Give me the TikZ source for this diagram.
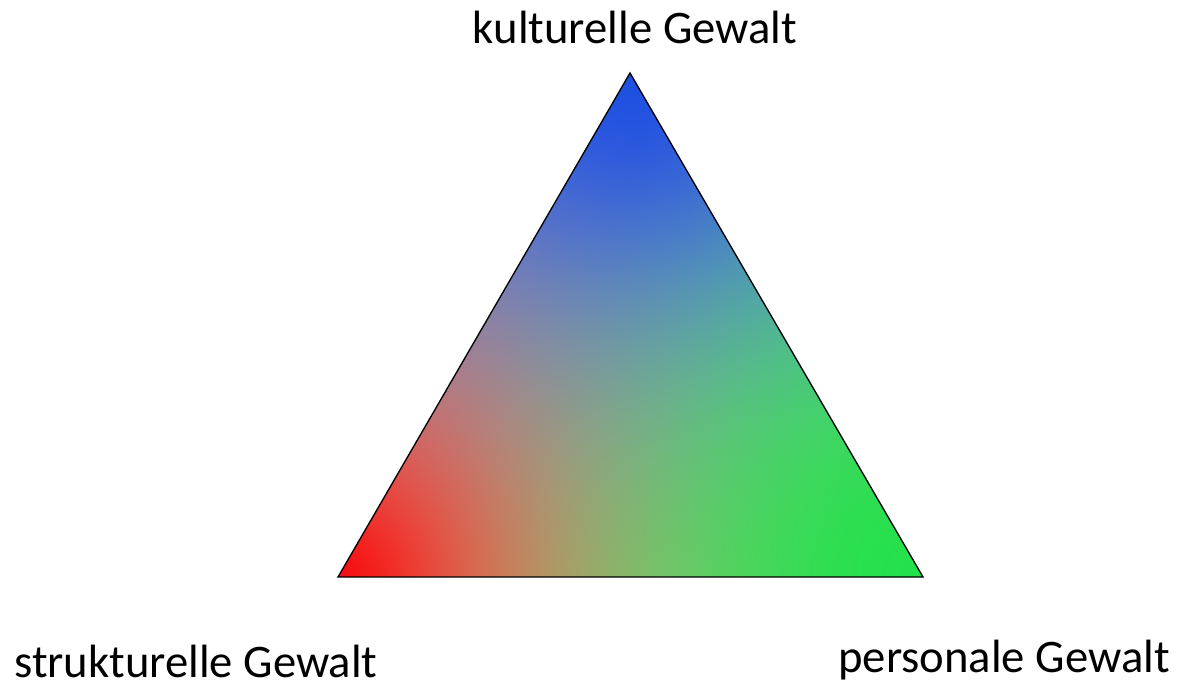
\documentclass[tikz,border=0pt]{standalone}
\usepackage{fontspec}
\setmainfont{Carlito}
\usetikzlibrary{positioning}

% three corner colours, blended by inverse distance (linear light)
\pgfdeclarefunctionalshading{gewalt}{\pgfpointorigin}{\pgfpoint{100bp}{100bp}}{}{
  1 index 25 sub dup mul 1 index 25 sub 0.86 mul dup mul add 0.001 add -1 exp 0.55 mul
  2 index 75 sub dup mul 2 index 25 sub 0.86 mul dup mul add 0.001 add -1 exp 1.4 mul
  3 index 50 sub dup mul 3 index 75 sub 0.86 mul dup mul add 0.001 add -1 exp 0.85 mul
  5 3 roll pop pop
  3 copy add add 4 1 roll
  3 index div 3 1 roll 3 index div 3 1 roll 3 index div 3 1 roll
  4 -1 roll pop
  2 index 0.916 mul 2 index 0.0126 mul add 1 index 0.0090 mul add 0.4545 exp
  3 index 0.0020 mul 3 index 0.759 mul add 2 index 0.078 mul add 0.4545 exp
  4 index 0.0037 mul 4 index 0.068 mul add 3 index 0.759 mul add 0.4545 exp
  6 3 roll pop pop pop
}

\tikzset{
    ecke/.style={font=\fontsize{35}{42}\selectfont,inner sep=0pt},
    dreieck/.style={draw=black,line width=1pt,line join=miter,shading=gewalt}
}

\begin{document}
\begin{tikzpicture}[x=0.75pt,y=0.75pt]
    \useasboundingbox (0,0) rectangle (1180,687);
    \coordinate (kult) at (630,614);
    \coordinate (strukt) at (338,110);
    \coordinate (pers) at (923,110);
    \path[dreieck] (strukt) -- (pers) -- (kult) -- cycle;
    \node[ecke,anchor=base] (kulttext) at (635,643) {kulturelle Gewalt};
    \node[ecke,anchor=base west] (strukttext) at (14,10) {strukturelle Gewalt};
    \node[ecke,anchor=base east] (perstext) at (1170,15) {personale Gewalt};
\end{tikzpicture}
\end{document}
